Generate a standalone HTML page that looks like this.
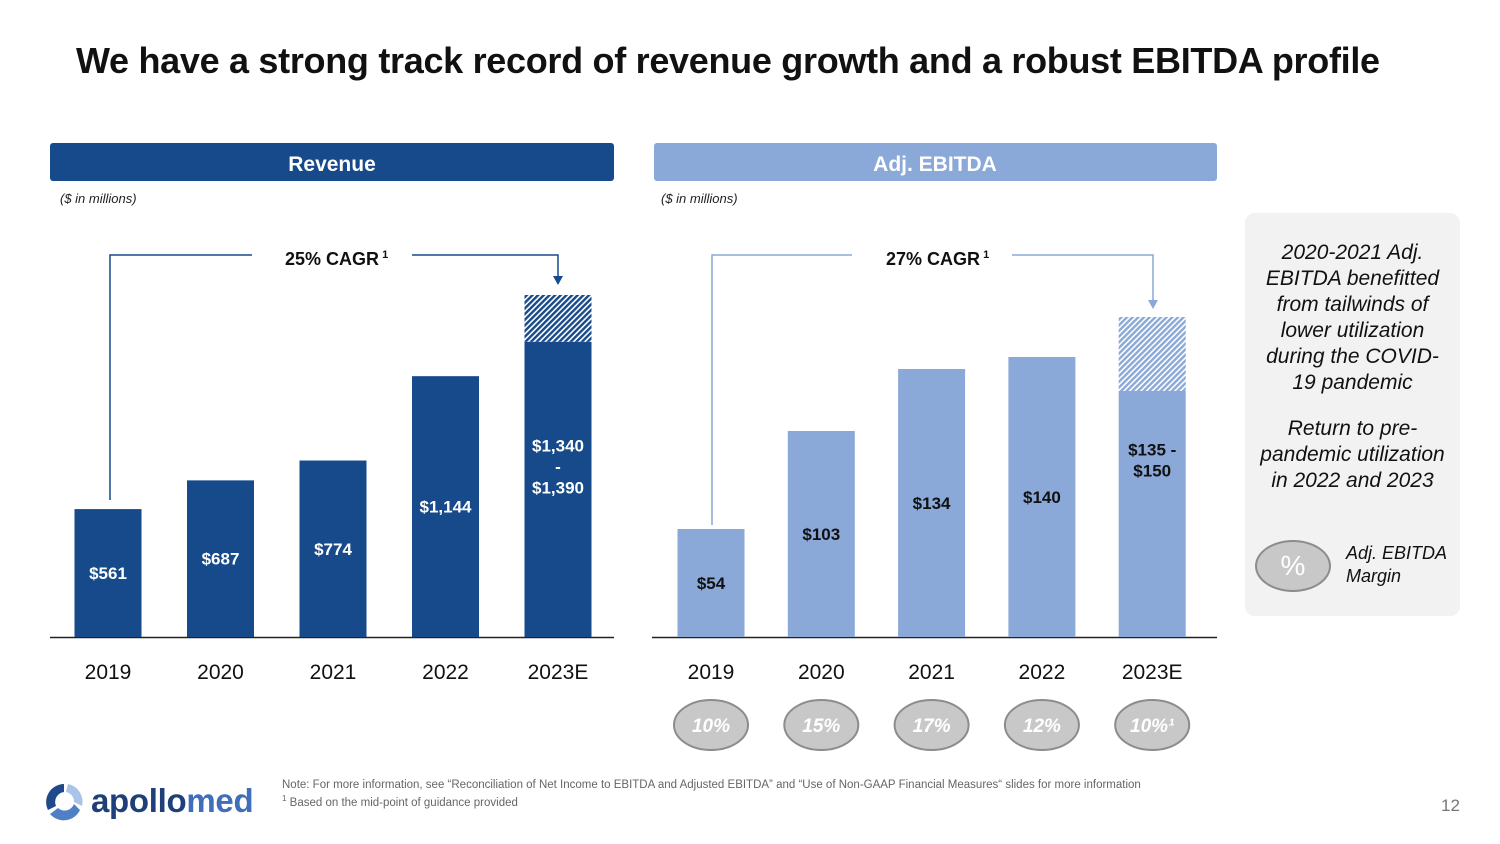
<!DOCTYPE html>
<html><head><meta charset="utf-8">
<style>
body{margin:0;width:1500px;height:844px;background:#fff;font-family:"Liberation Sans",sans-serif;overflow:hidden;position:relative}
.abs{position:absolute}
</style></head>
<body>
<div class="abs" style="left:76px;top:40px;font-size:36px;font-weight:bold;color:#111;letter-spacing:-0.3px">We have a strong track record of revenue growth and a robust EBITDA profile</div>
<svg class="abs" style="left:0;top:0" width="1500" height="844" id="chart">
<defs>
<pattern id="hatchD" width="4" height="4" patternUnits="userSpaceOnUse" patternTransform="rotate(45)"><rect width="4" height="4" fill="#fff"/><rect width="2.4" height="4" fill="#174a8a"/></pattern>
<pattern id="hatchL" width="4" height="4" patternUnits="userSpaceOnUse" patternTransform="rotate(45)"><rect width="4" height="4" fill="#fff"/><rect width="2.4" height="4" fill="#8aa8d8"/></pattern>
</defs>
<rect x="50" y="143" width="564" height="38" rx="3" fill="#174a8a"/>
<text x="332" y="171" text-anchor="middle" fill="#fff" font-size="21" font-weight="bold">Revenue</text>
<rect x="654" y="143" width="563" height="38" rx="3" fill="#8aa8d8"/>
<text x="935" y="171" text-anchor="middle" fill="#fff" font-size="21" font-weight="bold">Adj. EBITDA</text>
<text x="60" y="203" font-size="13" font-style="italic" fill="#222">($ in millions)</text>
<text x="661" y="203" font-size="13" font-style="italic" fill="#222">($ in millions)</text>
<line x1="50" y1="637.5" x2="614" y2="637.5" stroke="#222" stroke-width="1.5"/>
<line x1="652" y1="637.5" x2="1217" y2="637.5" stroke="#222" stroke-width="1.5"/>
<polyline points="110,500 110,255 252,255" fill="none" stroke="#174a8a" stroke-width="1.5"/>
<polyline points="412,255 558,255 558,278" fill="none" stroke="#174a8a" stroke-width="1.5"/>
<polygon points="553,276 563,276 558,285" fill="#174a8a"/>
<text x="285" y="265" font-size="18" font-weight="bold" fill="#111">25% CAGR<tspan font-size="11" dy="-7"> 1</tspan></text>
<polyline points="712,525 712,255 852,255" fill="none" stroke="#8aa8d8" stroke-width="1.5"/>
<polyline points="1012,255 1153,255 1153,301" fill="none" stroke="#8aa8d8" stroke-width="1.5"/>
<polygon points="1148,300 1158,300 1153,309" fill="#8aa8d8"/>
<text x="886" y="265" font-size="18" font-weight="bold" fill="#111">27% CAGR<tspan font-size="11" dy="-7"> 1</tspan></text>
<g id="bars"></g>
</svg>
<div class="abs" style="left:1245px;top:213px;width:215px;height:403px;background:#f2f2f2;border-radius:10px"></div>
<div class="abs" style="left:1260px;top:240px;width:185px;text-align:center;font-size:21px;font-style:italic;line-height:26px;color:#111">2020-2021 Adj. EBITDA benefitted from tailwinds of lower utilization during the COVID-19 pandemic<div style="height:20px"></div>Return to pre-pandemic utilization in 2022 and 2023</div>
<div class="abs" style="left:1255px;top:540px;width:72px;height:48px;border-radius:50%;background:#c8c8c8;border:2px solid #8c8c8c;color:#fff;font-size:28px;text-align:center;line-height:48px">%</div>
<div class="abs" style="left:1346px;top:542px;font-size:18px;font-style:italic;line-height:23px;color:#111">Adj. EBITDA<br>Margin</div>
<svg class="abs" style="left:42px;top:780px" width="44" height="44">
<path d="M22 4 A18 18 0 0 0 6 30 L14 26 A10 10 0 0 1 22 12 Z" fill="#1e4a8a"/>
<path d="M38 30 A18 18 0 0 1 8 34 L16 28 A10 10 0 0 0 32 24 Z" fill="#4f7fc4"/>
<path d="M26 4 A18 18 0 0 1 40 26 L32 22 A10 10 0 0 0 24 12 Z" fill="#a9c4e8"/>
</svg>
<div class="abs" style="left:91px;top:782px;font-size:33px;font-weight:bold;color:#1e3f7a;letter-spacing:-0.3px">apollo<span style="color:#3f6fb8">med</span></div>
<div class="abs" style="left:282px;top:778px;font-size:11.5px;color:#666;line-height:14px">Note: For more information, see “Reconciliation of Net Income to EBITDA and Adjusted EBITDA” and “Use of Non-GAAP Financial Measures“ slides for more information<br><sup style="font-size:8px">1</sup> Based on the mid-point of guidance provided</div>
<div class="abs" style="left:1441px;top:796px;font-size:17px;color:#777">12</div>
<script>
const years = ["2019","2020","2021","2022","2023E"];
const revenue = [561, 687, 774, 1144, 1295];
const revenueHigh = [null, null, null, null, 1500];
const revenueLabels = ["$561","$687","$774","$1,144","$1,340|-|$1,390"];
const ebitda = [54, 103, 134, 140, 123];
const ebitdaHigh = [null, null, null, null, 160];
const ebitdaLabels = ["$54","$103","$134","$140","$135 -|$150"];
const margins = ["10%","15%","17%","12%","10%¹"];

const NS = "http://www.w3.org/2000/svg";
const g = document.getElementById("bars");
const base = 637;
function mk(tag, attrs){const e=document.createElementNS(NS,tag);for(const k in attrs)e.setAttribute(k,attrs[k]);g.appendChild(e);return e;}
function drawChart(vals, highs, labels, x0, step, scale, color, hatch, prefix, labelOffsets){
  vals.forEach((v,i)=>{
    const cx = x0 + i*step;
    const h = v*scale;
    const r = mk("rect",{x:cx-33.5,y:base-h,width:67,height:h,fill:color});
    
    
    if(highs[i]!=null){
      const hh = highs[i]*scale;
      const hr = mk("rect",{x:cx-33.5,y:base-hh,width:67,height:hh-h,fill:"url(#"+hatch+")"});
      
      
    }
    const lines = labels[i].split("|");
    const midY = (highs[i]!=null ? base-h/2-labelOffsets : base-h/2) - (lines.length-1)*10.5;
    lines.forEach((ln,j)=>{
      const t = mk("text",{x:cx,y:midY+6+j*21,"text-anchor":"middle","font-size":"17","font-weight":"bold",fill:prefix==="revenue"?"#fff":"#111"});
      t.textContent = ln;
      
      
    });
    const yl = mk("text",{x:cx,y:679,"text-anchor":"middle","font-size":"21",fill:"#111"});
    yl.textContent = years[i];
    
    
  });
}
drawChart(revenue, revenueHigh, revenueLabels, 108, 112.5, 0.228, "#174a8a", "hatchD", "revenue", 23);
drawChart(ebitda, ebitdaHigh, ebitdaLabels, 711, 110.3, 2.0, "#8aa8d8", "hatchL", "ebitda", 54);
margins.forEach((m,i)=>{
  const cx = 711 + i*110.3;
  const e = mk("ellipse",{cx:cx,cy:725,rx:37,ry:25,fill:"#c8c8c8",stroke:"#8c8c8c","stroke-width":"2"});
  
  
  const t = mk("text",{x:cx,y:732,"text-anchor":"middle","font-size":"19","font-style":"italic","font-weight":"bold",fill:"#fff"});
  t.textContent = m;
  
  
});
</script>
</body></html>
